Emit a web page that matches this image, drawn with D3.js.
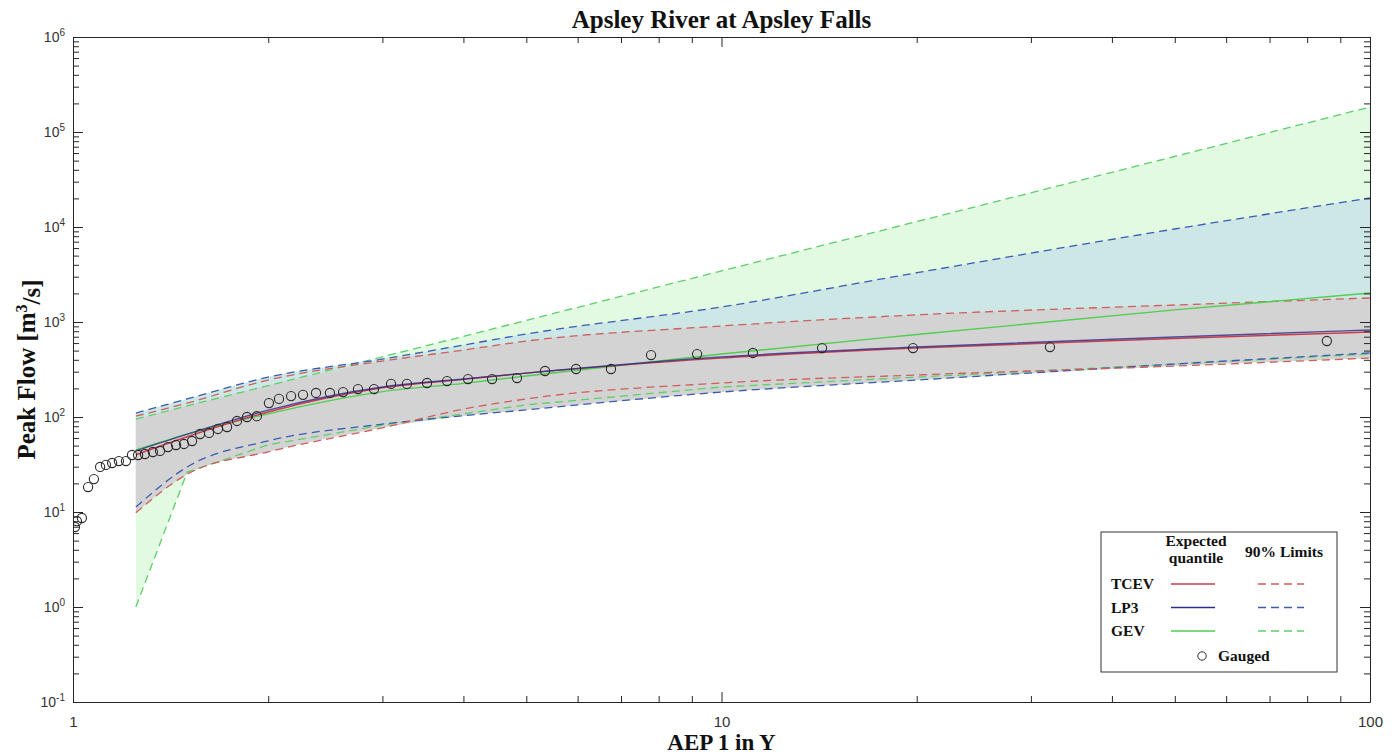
<!DOCTYPE html>
<html>
<head>
<meta charset="utf-8">
<script src="https://cdn.jsdelivr.net/npm/d3@7"></script>
<style>
    body { margin: 0; background: #fff; }
    svg { display: block; }
    .tick text { font-family: "Liberation Sans", Arial, sans-serif; font-size: 14px; fill: #333; }
    .tick line, .domain { stroke: #262626; }
    .lbl { font-family: "Liberation Serif", "Times New Roman", serif; font-weight: bold; fill: #111; }
</style>
</head>
<body>
<div class="container"></div>
<script>
const width = 1397,
    height = 754,
    margin = { top: 37, right: 27, bottom: 52, left: 73 };

// AEP 1 in Y where the fitted curves are given
const aep = [1.25, 1.5, 2, 3, 4, 5, 10, 20, 50, 100];

// expected quantiles [m3/s]
const tcevExp = [40, 62, 113, 203, 249, 290, 417, 532, 670, 785];
const lp3Exp = [44, 66, 118, 207, 251, 290, 428, 546, 695, 824];
const gevExp = [45, 66, 108, 185, 226, 270, 460, 738, 1340, 2020];

// 90% limits
const tcevLow = [9.8, 25, 43, 77, 121, 155, 228, 277, 344, 417];
const tcevUp = [102, 140, 245, 388, 507, 630, 908, 1190, 1510, 1790];
const lp3Low = [11.3, 29.8, 56, 84, 103, 119, 183, 245, 361, 472];
const lp3Up = [110, 155, 263, 407, 572, 748, 1440, 3300, 9530, 20200];
const gevLow = [1.0, 26.3, 51, 82, 108, 134, 207, 263, 361, 460];
const gevUp = [95, 131, 214, 430, 706, 1040, 3450, 11400, 55300, 183000];

// gauged annual maxima
const gaugedAep = [1.007, 1.014, 1.032, 1.055, 1.077, 1.101, 1.124, 1.149, 1.177, 1.207,
    1.233, 1.26, 1.291, 1.328, 1.362, 1.401, 1.442, 1.483, 1.526, 1.57,
    1.621, 1.673, 1.728, 1.79, 1.855, 1.921, 2.005, 2.078, 2.169, 2.263,
    2.37, 2.49, 2.609, 2.751, 2.912, 3.093, 3.273, 3.515, 3.774, 4.066,
    4.428, 4.838, 5.344, 5.966, 6.754, 7.787, 9.17, 11.18, 14.29, 19.74,
    32.1, 85.8];
const gaugedFlow = [6.95, 8.0, 8.65, 18.3, 22.2, 29.8, 31.3, 32.8, 34.4, 34.4,
    39.8, 39.8, 40.8, 42.8, 43.9, 48.3, 50.7, 52, 55.9, 66.2,
    67.9, 74.8, 78.5, 90.8, 100, 102, 140, 155, 166, 171,
    179, 179, 183, 197, 197, 223, 223, 228, 239, 251,
    251, 257, 305, 320, 320, 449, 460, 472, 532, 532,
    545, 631];

const xMajor = [1, 10, 100];
const yMajor = [0.1, 1, 10, 100, 1e3, 1e4, 1e5, 1e6];

const colors = {
    tcev: '#cc3d4a', lp3: '#2c2c8a', gev: '#4fcf4f',
    tcevDash: '#cf5f5c', lp3Dash: '#3a5cb0', gevDash: '#5fcf6a'
};

const iw = width - margin.left - margin.right,
    ih = height - margin.top - margin.bottom;

const x = d3.scaleLog().domain([1, 100]).range([0, iw]);
const y = d3.scaleLog().domain([0.1, 1e6]).range([ih, 0]);

const svg = d3.select('.container')
    .append('svg')
    .attr('width', width)
    .attr('height', height);

svg.append('defs').append('clipPath')
    .attr('id', 'clip')
    .append('rect')
    .attr('width', iw)
    .attr('height', ih);

const g = svg.append('g')
    .attr('transform', `translate(${margin.left},${margin.top})`);

const plot = g.append('g').attr('clip-path', 'url(#clip)');

const rows = aep.map((a, i) => ({
    a,
    tcevExp: tcevExp[i], lp3Exp: lp3Exp[i], gevExp: gevExp[i],
    tcevLow: tcevLow[i], tcevUp: tcevUp[i],
    lp3Low: lp3Low[i], lp3Up: lp3Up[i],
    gevLow: gevLow[i], gevUp: gevUp[i],
    grayLow: Math.min(lp3Low[i], tcevLow[i]),
    grayUp: Math.min(tcevUp[i], lp3Up[i], gevUp[i])
}));

// the GEV lower limit has a sharp kink at 1.5, keep it straight
const curveFor = key => key === 'gevLow' ? d3.curveLinear : d3.curveMonotoneX;

const line = key => d3.line()
    .x(d => x(d.a))
    .y(d => y(d[key]))
    .curve(curveFor(key));

const band = (lowKey, upKey) => {
    const up = line(upKey)(rows);
    const low = line(lowKey)(rows.slice().reverse());
    return up + 'L' + low.slice(1) + 'Z';
};

plot.append('path')
    .attr('fill', '#e1fae1')
    .attr('d', band('gevLow', 'gevUp'));

plot.append('path')
    .attr('fill', '#cde6e6')
    .attr('d', band('lp3Low', 'lp3Up'));

plot.append('path')
    .attr('fill', '#d3d3d3')
    .attr('d', band('grayLow', 'grayUp'));

const dashed = [
    ['gevLow', colors.gevDash], ['gevUp', colors.gevDash],
    ['lp3Low', colors.lp3Dash], ['lp3Up', colors.lp3Dash],
    ['tcevLow', colors.tcevDash], ['tcevUp', colors.tcevDash]
];

dashed.forEach(([key, c]) => {
    plot.append('path')
        .datum(rows)
        .attr('fill', 'none')
        .attr('stroke', c)
        .attr('stroke-width', 1.3)
        .attr('stroke-dasharray', '8,5')
        .attr('d', line(key));
});

[['gevExp', colors.gev], ['tcevExp', colors.tcev], ['lp3Exp', colors.lp3]].forEach(([key, c]) => {
    plot.append('path')
        .datum(rows)
        .attr('fill', 'none')
        .attr('stroke', c)
        .attr('stroke-width', 1.4)
        .attr('stroke-opacity', key === 'lp3Exp' ? 0.8 : 1)
        .attr('d', line(key));
});

plot.selectAll('.gauged')
    .data(gaugedAep.map((a, i) => [a, gaugedFlow[i]]))
    .enter()
    .append('circle')
    .attr('class', 'gauged')
    .attr('cx', d => x(d[0]))
    .attr('cy', d => y(d[1]))
    .attr('r', 4.6)
    .attr('fill', 'none')
    .attr('stroke', '#2a2a2a')
    .attr('stroke-width', 1.1);

// axes: inward ticks on all four sides
const xMinor = [];
[1, 10].forEach(b => { for (let k = 2; k <= 9; k++) xMinor.push(b * k); });
const yMinor = [];
yMajor.slice(0, -1).forEach(b => { for (let k = 2; k <= 9; k++) yMinor.push(b * k); });

const addAxis = (axisFn, scale, minor, major, transform, labels) => {
    const a1 = g.append('g').attr('transform', transform)
        .call(axisFn(scale).tickValues(minor).tickSize(-6).tickFormat(''));
    a1.select('.domain').remove();
    const a2 = g.append('g').attr('transform', transform)
        .call(axisFn(scale).tickValues(major).tickSize(-10).tickSizeOuter(0)
            .tickFormat(labels ? labels : ''));
    return a2;
};

const xAx = addAxis(d3.axisBottom, x, xMinor, xMajor, `translate(0,${ih})`, d => d);
xAx.selectAll('.tick text').attr('y', 14).attr('dy', '0.71em').style('font-size', '15px');

addAxis(d3.axisTop, x, xMinor, xMajor, 'translate(0,0)', null);

const yAx = addAxis(d3.axisLeft, y, yMinor, yMajor, 'translate(0,0)', () => '');
yAx.selectAll('.tick text')
    .attr('x', -8)
    .each(function (d) {
        const t = d3.select(this);
        const e = Math.round(Math.log10(d));
        t.append('tspan').text('10');
        t.append('tspan')
            .attr('dy', '-0.55em')
            .style('font-size', '10px')
            .text(String(e));
    });

addAxis(d3.axisRight, y, yMinor, yMajor, `translate(${iw},0)`, null);

g.selectAll('.domain').attr('stroke', '#262626');

// titles
svg.append('text')
    .attr('class', 'lbl')
    .attr('x', margin.left + iw / 2)
    .attr('y', 28)
    .attr('text-anchor', 'middle')
    .style('font-size', '25px')
    .text('Apsley River at Apsley Falls');

svg.append('text')
    .attr('class', 'lbl')
    .attr('x', margin.left + iw / 2)
    .attr('y', 750)
    .attr('text-anchor', 'middle')
    .style('font-size', '23px')
    .text('AEP 1 in Y');

const yl = svg.append('text')
    .attr('class', 'lbl')
    .attr('transform', `translate(35,${margin.top + ih / 2}) rotate(-90)`)
    .attr('text-anchor', 'middle')
    .style('font-size', '25px');
yl.append('tspan').text('Peak Flow [m');
yl.append('tspan').attr('dy', '-0.5em').style('font-size', '16px').text('3');
yl.append('tspan').attr('dy', '0.5em').text('/s]');

// legend
const legend = svg.append('g').attr('id', 'legend');

legend.append('rect')
    .attr('x', 1101)
    .attr('y', 532)
    .attr('width', 236)
    .attr('height', 140)
    .attr('fill', '#fff')
    .attr('stroke', '#333')
    .attr('stroke-width', 1);

const lt = (tx, ty, s, anchor) => legend.append('text')
    .attr('class', 'lbl')
    .attr('x', tx)
    .attr('y', ty)
    .attr('text-anchor', anchor || 'start')
    .style('font-size', '15.5px')
    .text(s);

lt(1196, 546, 'Expected', 'middle');
lt(1196, 563, 'quantile', 'middle');
lt(1284, 557, '90% Limits', 'middle');

const legendRows = [
    ['TCEV', colors.tcev, colors.tcevDash],
    ['LP3', colors.lp3, colors.lp3Dash],
    ['GEV', colors.gev, colors.gevDash]
];

legendRows.forEach(([name, c, cd], i) => {
    const ly = 584 + i * 23.5;
    lt(1111, ly + 5, name);
    legend.append('line')
        .attr('x1', 1171).attr('x2', 1215)
        .attr('y1', ly).attr('y2', ly)
        .attr('stroke', c).attr('stroke-width', 1.3);
    legend.append('line')
        .attr('x1', 1258).attr('x2', 1304)
        .attr('y1', ly).attr('y2', ly)
        .attr('stroke', cd).attr('stroke-width', 1.3)
        .attr('stroke-dasharray', '8,5');
});

legend.append('circle')
    .attr('cx', 1202)
    .attr('cy', 656)
    .attr('r', 4.2)
    .attr('fill', 'none')
    .attr('stroke', '#2a2a2a');

lt(1218, 661, 'Gauged');
</script>
</body>
</html>
